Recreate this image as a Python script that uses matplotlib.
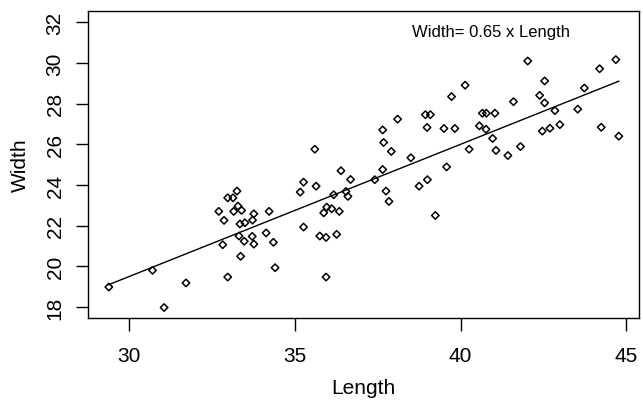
import numpy as np
import matplotlib
matplotlib.use("Agg")
import matplotlib.pyplot as plt

# values
length = [29.38, 30.70, 31.05, 31.71, 32.70, 32.86, 32.82, 32.97, 32.97, 33.13,
          33.25, 33.15, 33.28, 33.39, 33.34, 33.49, 33.31, 33.47, 33.36, 33.72,
          33.76, 33.71, 33.76, 34.13, 34.22, 34.35, 34.40, 35.16, 35.26, 35.26,
          35.60, 35.64, 35.75, 35.94, 35.87, 35.96, 36.11, 35.94, 36.17, 36.26,
          36.34, 36.39, 36.54, 36.60, 36.68, 37.41, 37.65, 37.68, 37.65, 37.75,
          37.84, 37.91, 38.10, 38.50, 38.75, 38.94, 39.09, 38.99, 39.00, 39.24,
          39.50, 39.58, 39.73, 39.83, 40.14, 40.26, 40.57, 40.66, 40.78, 40.77,
          41.04, 40.97, 41.07, 41.43, 41.60, 41.81, 42.03, 42.39, 42.54, 42.54,
          42.47, 42.70, 42.85, 43.00, 43.54, 43.74, 44.20, 44.25, 44.69, 44.78]
width = [18.98, 19.80, 17.97, 19.18, 22.70, 22.26, 21.06, 19.47, 23.37, 23.37,
         23.70, 22.70, 22.96, 22.75, 22.08, 22.14, 21.49, 21.23, 20.49, 22.27,
         22.58, 21.47, 21.09, 21.64, 22.70, 21.18, 19.93, 23.65, 24.14, 21.93,
         25.76, 23.94, 21.49, 21.42, 22.63, 22.91, 22.83, 19.47, 23.52, 21.57,
         22.70, 24.70, 23.68, 23.44, 24.27, 24.26, 26.71, 26.09, 24.76, 23.70,
         23.19, 25.65, 27.24, 25.34, 23.94, 27.46, 27.46, 26.83, 24.26, 22.50,
         26.78, 24.89, 28.35, 26.78, 28.91, 25.76, 26.91, 27.53, 27.53, 26.74,
         27.53, 26.29, 25.70, 25.45, 28.10, 25.89, 30.10, 28.41, 29.12, 28.04,
         26.65, 26.79, 27.66, 26.97, 27.73, 28.77, 29.72, 26.84, 30.17, 26.40]
slope = 0.65
xticks = [30, 35, 40, 45]
yticks = [18, 20, 22, 24, 26, 28, 30, 32]

plt.rcParams['font.family'] = ['Liberation Sans', 'DejaVu Sans']

fig = plt.figure(figsize=(6.43, 4.02), dpi=100)
ax = fig.add_axes([0.1373, 0.2057, 0.8570, 0.7644])

ax.scatter(length, width, marker='D', s=3.8 ** 2, facecolors='none',
           edgecolors='black', linewidths=1.1, zorder=3)

x_fit = np.array([min(length), max(length)])
ax.plot(x_fit, slope * x_fit, color='black', lw=1.0)

# R-style 4% padding around the ranges
ax.set_xlim(28.76, 45.40)
ax.set_ylim(17.44, 32.56)
ax.set_xticks(xticks)
ax.set_yticks(yticks)
ax.tick_params(direction='out', length=9, width=1.0, labelsize=15, color='black')
ax.tick_params(axis='x', pad=11)
ax.tick_params(axis='y', pad=8)
for lab in ax.get_yticklabels():
    lab.set_rotation(90)
    lab.set_va('center')

for sp in ax.spines.values():
    sp.set_linewidth(1.0)

ax.set_xlabel('Length', fontsize=15)
ax.set_ylabel('Width', fontsize=15)
ax.xaxis.set_label_coords(0.5, -0.195)
ax.yaxis.set_label_coords(-0.106, 0.5)

ax.text(0.587, 0.9326, 'Width= 0.65 x Length', transform=ax.transAxes,
        fontsize=12, ha='left', va='center')

fig.savefig('out.png', dpi=100)
